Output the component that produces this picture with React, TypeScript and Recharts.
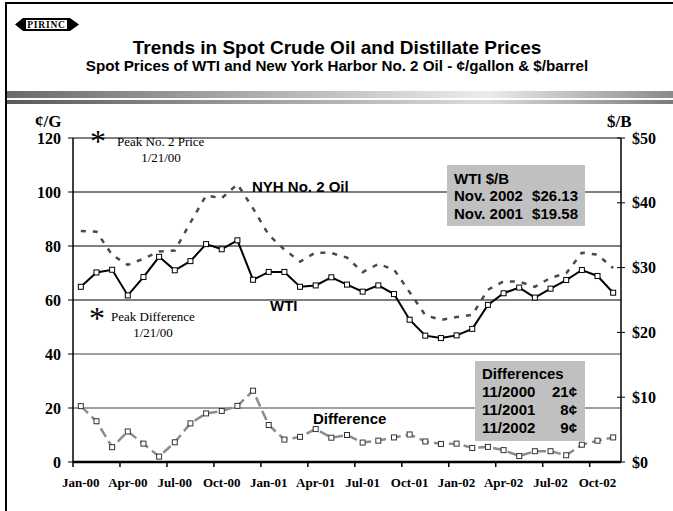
import React from 'react'
import { LineChart, Line, XAxis, YAxis, ReferenceLine } from 'recharts'

// monthly spot prices, ¢/gallon
const months = [
  'Jan-00', 'Feb-00', 'Mar-00', 'Apr-00', 'May-00', 'Jun-00', 'Jul-00', 'Aug-00', 'Sep-00', 'Oct-00', 'Nov-00', 'Dec-00',
  'Jan-01', 'Feb-01', 'Mar-01', 'Apr-01', 'May-01', 'Jun-01', 'Jul-01', 'Aug-01', 'Sep-01', 'Oct-01', 'Nov-01', 'Dec-01',
  'Jan-02', 'Feb-02', 'Mar-02', 'Apr-02', 'May-02', 'Jun-02', 'Jul-02', 'Aug-02', 'Sep-02', 'Oct-02', 'Nov-02',
]
const wti = [
  64.9, 70.2, 71.2, 61.7, 68.5, 76.0, 71.0, 74.4, 80.7, 78.8, 82.1, 67.5,
  70.4, 70.4, 64.9, 65.4, 68.4, 65.7, 63.1, 65.4, 62.2, 52.7, 46.8, 45.9,
  46.9, 49.3, 58.2, 62.5, 64.6, 60.9, 64.2, 67.4, 71.1, 68.9, 62.7,
]
const nyh = [
  85.6, 85.3, 76.7, 73.0, 75.3, 78.0, 78.3, 88.7, 98.7, 97.7, 102.9, 93.9,
  84.1, 78.7, 74.2, 77.6, 77.4, 75.7, 70.3, 73.3, 71.3, 62.9, 54.4, 52.6,
  53.7, 54.5, 63.8, 66.9, 66.8, 64.9, 68.2, 69.9, 77.5, 76.8, 71.8,
]
const diff = [
  20.7, 15.1, 5.5, 11.3, 6.8, 2.0, 7.3, 14.3, 18.0, 18.9, 20.8, 26.4,
  13.7, 8.3, 9.3, 12.2, 9.0, 10.0, 7.2, 7.9, 9.1, 10.2, 7.6, 6.7,
  6.8, 5.2, 5.6, 4.4, 2.2, 4.0, 4.0, 2.5, 6.4, 7.9, 9.1,
]

const centTicks = [0, 20, 40, 60, 80, 100, 120]
const gridCents = [20, 40, 60, 80, 100, 120]
const dollarTicks = [0, 10, 20, 30, 40, 50]

const data = months.map((m, i) => ({ month: m, wti: wti[i], nyh: nyh[i], diff: diff[i] }))

const serif = '"Liberation Serif", "Times New Roman", serif'
const sans = '"Liberation Sans", Arial, sans-serif'

const squareDot = (stroke: string) => (props: any) => {
  const { cx, cy, index } = props
  if (cx == null || cy == null) return <g key={index} />
  return <rect key={index} x={cx - 2.5} y={cy - 2.5} width={5} height={5} fill="#fff" stroke={stroke} strokeWidth={1} />
}

const MonthTick = (props: any) => {
  const { x, y, payload } = props
  const half = payload.offset || 7.83
  return (
    <g>
      <line x1={x - half} x2={x - half} y1={y - 15} y2={y - 10} stroke="#000" strokeWidth={1.5} />
      <text x={x} y={y} dy={10} textAnchor="middle" fontFamily={serif} fontWeight="bold" fontSize={13} fill="#000">
        {payload.value}
      </text>
    </g>
  )
}

const DollarTick = (props: any) => {
  const { x, y, payload } = props
  return (
    <g>
      <line x1={x - 15} x2={x - 7} y1={y} y2={y} stroke="#000" strokeWidth={1} />
      <text x={x} y={y} dy={5.5} fontFamily={serif} fontWeight="bold" fontSize={16} fill="#000">
        ${payload.value}
      </text>
    </g>
  )
}

export default function App() {
  return (
    <div style={{ position: 'absolute', left: 0, top: 0, width: 673, height: 511, background: '#fff' }}>
      <LineChart width={673} height={511} data={data} margin={{ top: 138, right: 0, bottom: 0, left: 0 }}>
        <XAxis
          dataKey="month"
          scale="band"
          interval={2}
          height={49}
          tickSize={5}
          tickMargin={10}
          tickLine={false}
          tick={(p: any) => <MonthTick {...p} />}
          axisLine={{ stroke: '#000', strokeWidth: 2.5 }}
        />
        <YAxis
          yAxisId="left"
          domain={[0, 120]}
          ticks={centTicks}
          width={73}
          tickSize={5}
          tickMargin={7}
          tickLine={{ stroke: '#000' }}
          axisLine={{ stroke: '#000', strokeWidth: 1.5 }}
          tick={{ fontFamily: serif, fontWeight: 'bold', fontSize: 16, fill: '#000' }}
        />
        <YAxis
          yAxisId="right"
          orientation="right"
          type="number"
          domain={[0, 50]}
          allowDataOverflow
          ticks={dollarTicks}
          width={52}
          tickSize={4}
          tickMargin={7}
          tickLine={false}
          tick={(p: any) => <DollarTick {...p} />}
          axisLine={{ stroke: '#000', strokeWidth: 1.5 }}
        />
        <ReferenceLine yAxisId="right" y={0} ifOverflow="extendDomain" stroke="none" />
        <ReferenceLine yAxisId="right" y={50} ifOverflow="extendDomain" stroke="none" />
        {gridCents.map((v) => (
          <ReferenceLine
            key={v}
            yAxisId="left"
            y={v}
            stroke={v >= 60 ? '#000' : '#808080'}
            strokeWidth={v >= 60 ? 1 : 1.5}
          />
        ))}
        <Line
          yAxisId="left"
          dataKey="nyh"
          type="linear"
          stroke="#4a4a4a"
          strokeWidth={2.5}
          strokeDasharray="5 7"
          dot={false}
          isAnimationActive={false}
        />
        <Line
          yAxisId="left"
          dataKey="wti"
          type="linear"
          stroke="#000"
          strokeWidth={2}
          dot={squareDot('#000')}
          isAnimationActive={false}
        />
        <Line
          yAxisId="left"
          dataKey="diff"
          type="linear"
          stroke="#8c8c8c"
          strokeWidth={2.5}
          strokeDasharray="10 5"
          dot={squareDot('#333')}
          isAnimationActive={false}
        />
      </LineChart>

      <svg width={673} height={511} style={{ position: 'absolute', left: 0, top: 0, pointerEvents: 'none' }}>
        <defs>
          <linearGradient id="band1" x1="0" x2="1" y1="0" y2="0">
            <stop offset="0" stopColor="#6a6a6a" />
            <stop offset="0.72" stopColor="#ececec" />
            <stop offset="1" stopColor="#8a8a8a" />
          </linearGradient>
          <linearGradient id="band2" x1="0" x2="1" y1="0" y2="0">
            <stop offset="0" stopColor="#5a5a5a" />
            <stop offset="0.72" stopColor="#dcdcdc" />
            <stop offset="1" stopColor="#7a7a7a" />
          </linearGradient>
        </defs>
        <path d="M6,511 L6,3 L673,3" fill="none" stroke="#000" strokeWidth={2} />

        {/* logo */}
        <polygon points="15,24.5 23,18 23,31" fill="#000" />
        <rect x={23} y={18} width={47} height={13} fill="#000" />
        <rect x={26} y={20} width={41} height={9} fill="#fff" />
        <polygon points="70,18 79,24.5 70,31" fill="#000" />
        <text x={46.5} y={27.8} textAnchor="middle" fontFamily={serif} fontWeight="bold" fontSize={9.5} letterSpacing={0.8} fill="#000">
          PIRINC
        </text>

        <text x={337} y={54} textAnchor="middle" fontFamily={sans} fontWeight="bold" fontSize={19} fill="#000">
          Trends in Spot Crude Oil and Distillate Prices
        </text>
        <text x={337} y={71} textAnchor="middle" fontFamily={sans} fontWeight="bold" fontSize={15.2} fill="#000">
          Spot Prices of WTI and New York Harbor No. 2 Oil - ¢/gallon &amp; $/barrel
        </text>
        <rect x={7} y={91} width={666} height={7} fill="url(#band1)" />
        <rect x={7} y={100} width={666} height={4} fill="url(#band2)" />

        <text x={35} y={127} fontFamily={serif} fontWeight="bold" fontSize={17} fill="#000">¢/G</text>
        <text x={607} y={127} fontFamily={serif} fontWeight="bold" fontSize={17} fill="#000">$/B</text>

        <text x={98} y={152} textAnchor="middle" fontFamily={serif} fontSize={32} fill="#000">*</text>
        <text x={117} y={146} fontFamily={serif} fontSize={13} fill="#000">Peak No. 2 Price</text>
        <text x={161} y={162} textAnchor="middle" fontFamily={serif} fontSize={13} fill="#000">1/21/00</text>
        <text x={97} y={329} textAnchor="middle" fontFamily={serif} fontSize={32} fill="#000">*</text>
        <text x={111} y={321} fontFamily={serif} fontSize={13} fill="#000">Peak Difference</text>
        <text x={153} y={337} textAnchor="middle" fontFamily={serif} fontSize={13} fill="#000">1/21/00</text>

        <text x={252} y={192} fontFamily={sans} fontWeight="bold" fontSize={15} fill="#000">NYH No. 2 Oil</text>
        <text x={270} y={311} fontFamily={sans} fontWeight="bold" fontSize={15} fill="#000">WTI</text>
        <text x={313} y={424} fontFamily={sans} fontWeight="bold" fontSize={15} fill="#000">Difference</text>

        <rect x={447} y={165} width={138} height={61} fill="#c0c0c0" />
        <g fontFamily={sans} fontWeight="bold" fontSize={15} fill="#000">
          <text x={454} y={184}>WTI $/B</text>
          <text x={454} y={201}>Nov. 2002</text>
          <text x={578} y={201} textAnchor="end">$26.13</text>
          <text x={454} y={219}>Nov. 2001</text>
          <text x={578} y={219} textAnchor="end">$19.58</text>
        </g>

        <rect x={475} y={361} width={110} height={80} fill="#c0c0c0" />
        <g fontFamily={sans} fontWeight="bold" fontSize={15} fill="#000">
          <text x={482} y={379}>Differences</text>
          <text x={482} y={397}>11/2000</text>
          <text x={577} y={397} textAnchor="end">21¢</text>
          <text x={482} y={415}>11/2001</text>
          <text x={577} y={415} textAnchor="end">8¢</text>
          <text x={482} y={433}>11/2002</text>
          <text x={577} y={433} textAnchor="end">9¢</text>
        </g>
      </svg>
    </div>
  )
}
